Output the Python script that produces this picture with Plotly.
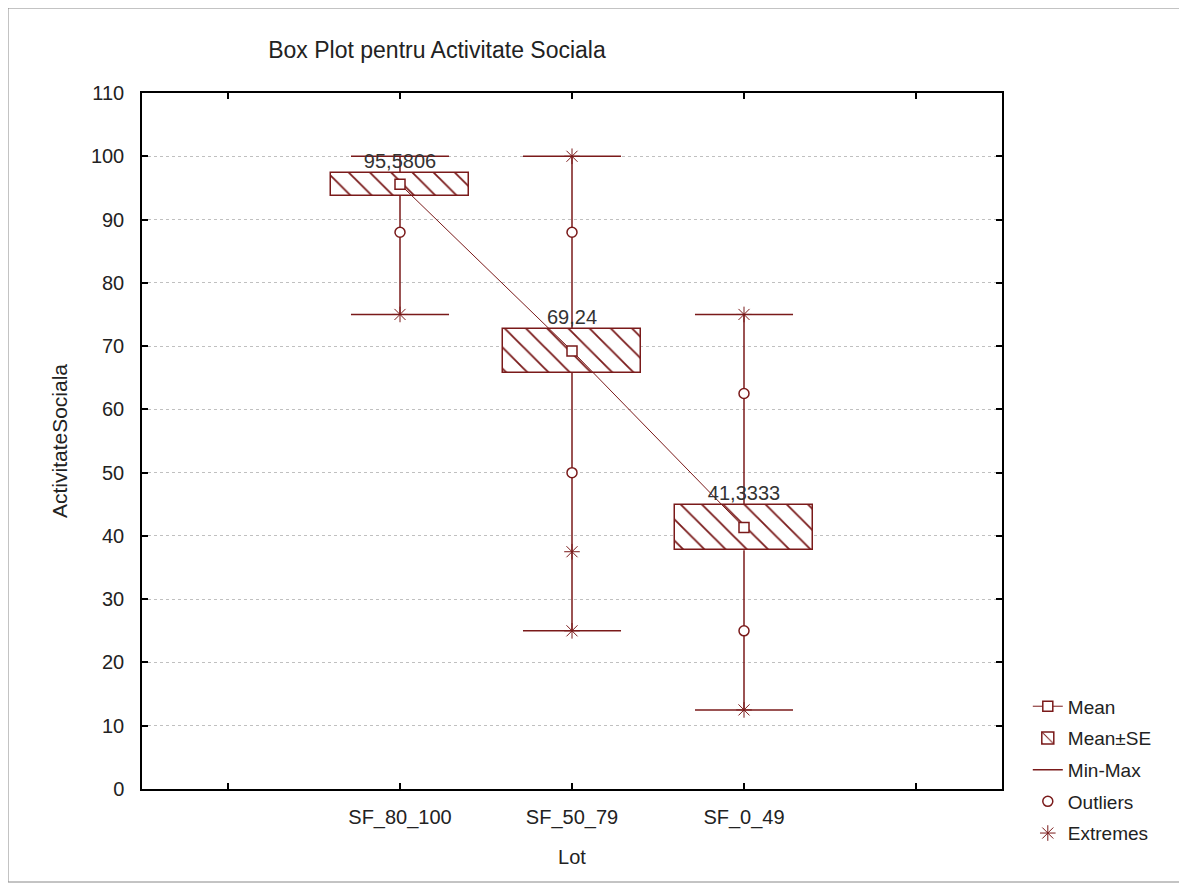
import plotly.graph_objects as go

categories = ["SF_80_100", "SF_50_79", "SF_0_49"]
positions = [1, 2, 3]
means = [95.5806, 69.24, 41.3333]
mean_labels = ["95,5806", "69,24", "41,3333"]
se = [1.8, 3.5, 3.6]
mins = [75, 25, 12.5]
maxs = [100, 100, 75]
outliers = [[88], [88, 50], [62.5, 25]]
extremes = [[75], [100, 37.5, 25], [75, 12.5]]

RED = "#7a1a1a"
FONT = "Liberation Sans, Arial, sans-serif"
TXT = "#222222"

# plot area in page pixels (page body has an 8px margin)
PL, PR, PT, PB = 142, 1002, 93, 789
W, H = 1179, 881
OFF = 8

fig = go.Figure()

lows = [m - s for m, s in zip(means, se)]
highs = [m + s for m, s in zip(means, se)]

wx, wy = [], []
for p, lo, hi, mn, mx in zip(positions, lows, highs, mins, maxs):
    wx += [p, p, None, p, p, None]
    wy += [mx, hi, None, lo, mn, None]
cap_half = 0.285
for p, mn, mx in zip(positions, mins, maxs):
    wx += [p - cap_half, p + cap_half, None, p - cap_half, p + cap_half, None]
    wy += [mx, mx, None, mn, mn, None]

fig.add_trace(go.Bar(
    x=positions, y=[h - l for h, l in zip(highs, lows)], base=lows,
    width=0.8, name="Mean±SE", legendrank=2, legendgroup="b",
    marker=dict(color="white", line=dict(color=RED, width=1.5),
                pattern=dict(shape="\\", fgcolor=RED, fgopacity=1, size=15, solidity=0.12)),
    hoverinfo="skip",
))

fig.add_trace(go.Scatter(
    x=wx, y=wy, mode="lines", name="Min-Max",
    line=dict(color=RED, width=1.5), showlegend=False, hoverinfo="skip",
))

fig.add_trace(go.Scatter(
    x=positions, y=means, mode="lines+markers", name="Mean", legendrank=1, legendgroup="a",
    line=dict(color=RED, width=1),
    marker=dict(symbol="square", size=10, color="white", line=dict(color=RED, width=1.5)),
))

ox, oy = [], []
for p, vals in zip(positions, outliers):
    for v in vals:
        ox.append(p); oy.append(v)
fig.add_trace(go.Scatter(
    x=ox, y=oy, mode="markers", name="Outliers", legendrank=4, legendgroup="d",
    marker=dict(symbol="circle", size=10, color="white", line=dict(color=RED, width=1.5)),
))

ex, ey = [], []
for p, vals in zip(positions, extremes):
    for v in vals:
        ex.append(p); ey.append(v)
fig.add_trace(go.Scatter(
    x=ex, y=ey, mode="markers", name="Extremes", legendrank=5, legendgroup="e",
    marker=dict(symbol="asterisk-open", size=13, color=RED, line=dict(color=RED, width=1)),
))

fig.add_trace(go.Scatter(
    x=[None], y=[None], mode="lines", name="Min-Max", legendrank=3, legendgroup="c",
    line=dict(color=RED, width=1.5),
))

fig.add_trace(go.Scatter(
    x=positions, y=highs, mode="text", text=mean_labels,
    textposition="top center", textfont=dict(family=FONT, size=20, color="#333333"),
    showlegend=False, hoverinfo="skip",
))

pw, ph = PR - PL, PB - PT

fig.update_layout(
    width=W, height=H,
    paper_bgcolor="white", plot_bgcolor="white",
    margin=dict(l=PL - OFF, r=W + OFF - PR, t=PT - OFF, b=H + OFF - PB),
    font=dict(family=FONT, size=18, color=TXT),
    title=dict(text="Box Plot pentru Activitate Sociala", x=(437 - OFF) / W, xanchor="center",
               y=1 - (50 - OFF) / H, yanchor="middle", font=dict(family=FONT, size=23, color=TXT)),
    showlegend=True,
    legend=dict(x=1.03, xanchor="left", y=0.146, yanchor="top",
                font=dict(family=FONT, size=19, color=TXT),
                traceorder="grouped", bgcolor="rgba(0,0,0,0)", tracegroupgap=4,
                itemwidth=30),
    bargap=0,
)

fig.update_xaxes(
    range=[-0.5, 4.5], tickvals=[0, 1, 2, 3, 4],
    ticktext=["", categories[0], categories[1], categories[2], ""],
    ticks="inside", ticklen=6, tickcolor="black", tickwidth=1.5,
    showline=True, linecolor="black", linewidth=1.5, mirror="ticks",
    showgrid=False, zeroline=False, ticklabelstandoff=9,
    title=dict(text="Lot", font=dict(family=FONT, size=20), standoff=22),
    tickfont=dict(family=FONT, size=20, color=TXT),
)
fig.update_yaxes(
    range=[0, 110], tickvals=list(range(0, 111, 10)),
    ticks="inside", ticklen=6, tickcolor="black", tickwidth=1.5,
    showline=True, linecolor="black", linewidth=1.5, mirror="ticks",
    showgrid=True, gridcolor="#c0c0c0", griddash="dot", gridwidth=1,
    zeroline=False, ticklabelstandoff=12,
    title=dict(text="ActivitateSociala", font=dict(family=FONT, size=21), standoff=18),
    tickfont=dict(family=FONT, size=20, color=TXT),
)

fig.add_shape(type="rect", xref="paper", yref="paper",
              x0=(8 - PL) / pw, x1=(1180 - PL) / pw,
              y0=-(882 - PB) / ph, y1=(PB - 8) / ph,
              line=dict(color="#888888", width=1), fillcolor="rgba(0,0,0,0)", layer="below")

fig.write_html("out.html")
